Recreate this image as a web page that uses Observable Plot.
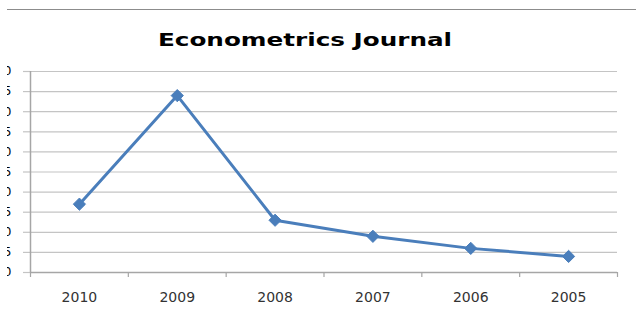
<!DOCTYPE html>
<html>
<head>
<meta charset="utf-8">
<script src="https://cdn.jsdelivr.net/npm/d3@7"></script>
<script src="https://cdn.jsdelivr.net/npm/@observablehq/plot@0.6"></script>
<style>
  html, body { margin: 0; padding: 0; background: #fff; }
  #wrap { position: relative; width: 636px; height: 314px; overflow: hidden; }
  #wrap svg { position: absolute; left: 0; top: 0; clip-path: inset(0 0 0 7px); }
  #topline { position: absolute; left: 7px; top: 9px; width: 629px; border-top: 1.5px solid #8c8c8c; }
  #title { position: absolute; left: 0; top: 31px; width: 610px; text-align: center;
           font: bold 18px/18px "DejaVu Sans", sans-serif; color: #000;
           transform: scaleX(1.37); transform-origin: 50% 50%; white-space: nowrap; }
</style>
</head>
<body>
<div id="wrap">
  <div id="topline"></div>
  <div id="title">Econometrics Journal</div>
</div>
<script>
const years = ["2010", "2009", "2008", "2007", "2006", "2005"];
const values = [17, 44, 13, 9, 6, 4];
const yTicks = [0, 5, 10, 15, 20, 25, 30, 35, 40, 45, 50];

const data = years.map((year, i) => ({i, year, value: values[i]}));
const centers = years.map((_, i) => i);
const boundaries = years.map((_, i) => i - 0.5).concat([years.length - 0.5]);

const blue = "#4a7ebb";
const axisGray = "#a6a6a6";
const gridGray = "#c4c4c4";

const chart = Plot.plot({
  width: 636,
  height: 314,
  marginLeft: 30,
  marginRight: 19,
  marginTop: 71,
  marginBottom: 42,
  style: {background: "transparent", fontFamily: "DejaVu Sans, sans-serif"},
  x: {type: "linear", domain: [-0.5, years.length - 0.5], axis: null, label: null},
  y: {domain: [0, 50], axis: null, label: null},
  marks: [
    Plot.gridY(yTicks, {stroke: gridGray, strokeOpacity: 1, strokeWidth: 1.2}),
    Plot.axisY(yTicks, {tickSize: 7, tickPadding: 12, stroke: gridGray, strokeWidth: 1.2, fill: "#000", fontSize: 12, label: null, tickFormat: d => String(d)}),
    Plot.ruleX([-0.5], {stroke: axisGray, strokeWidth: 1.5}),
    Plot.ruleY([0], {stroke: axisGray, strokeWidth: 1.5}),
    Plot.axisX(boundaries, {tickSize: 5, stroke: axisGray, strokeWidth: 1.2, label: null, tickFormat: () => ""}),
    Plot.axisX(centers, {tickSize: 0, tickPadding: 20, label: null, tickFormat: i => years[i], fontSize: 14, fill: "#333"}),
    Plot.line(data, {x: "i", y: "value", stroke: blue, strokeWidth: 3}),
    Plot.dot(data, {x: "i", y: "value", symbol: "diamond2", r: 5.5, fill: blue, stroke: blue, strokeWidth: 1})
  ]
});
document.getElementById("wrap").prepend(chart);
</script>
</body>
</html>
